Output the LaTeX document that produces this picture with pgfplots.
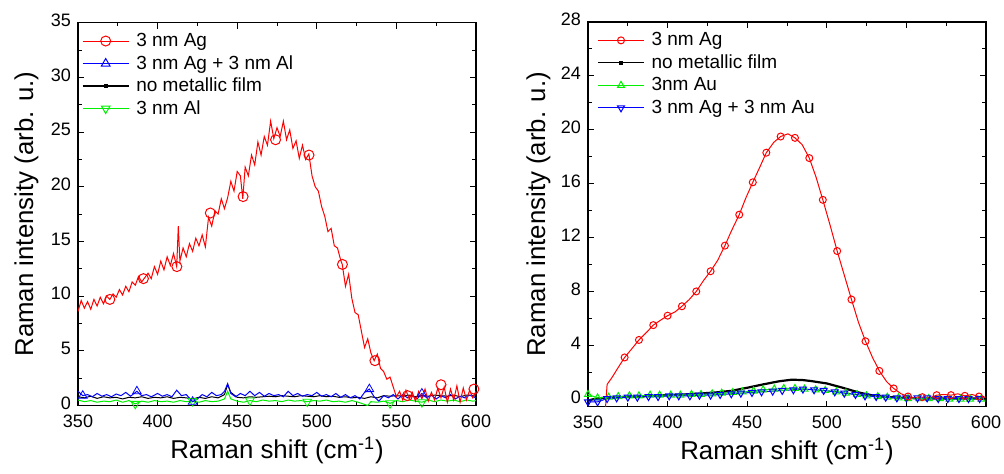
\documentclass[border=0pt]{standalone}
\usepackage{fontspec}
\setmainfont{Liberation Sans}
\usepackage{pgfplots}
\pgfplotsset{compat=1.18}
\definecolor{myred}{RGB}{255,0,0}
\definecolor{myblue}{RGB}{0,0,255}
\definecolor{mygreen}{RGB}{0,240,0}
\pgfplotsset{
  myaxis/.style={
    scale only axis,
    xmin=350, xmax=600,
    xtick={350,400,450,500,550,600},
    minor x tick num=1,
    tick align=inside,
    ticks=both,
    xtick pos=both, ytick pos=both,
    major tick length=3pt, minor tick length=1.8pt,
    axis line style={line width=0.6pt},
    every tick/.style={black, line width=0.5pt},
    /pgf/number format/assume math mode=true,
    ticklabel style={font=\fontsize{9}{10}\selectfont},
    xticklabel style={yshift=-1pt},
    yticklabel style={yshift=1.2pt},
    xlabel={Raman shift (cm\textsuperscript{-1})},
    ylabel={Raman intensity (arb. u.)},
    label style={font=\fontsize{12.9}{14}\selectfont},
    xlabel style={at={(axis description cs:0.5,0)}, anchor=base, yshift=-26.5pt},
    legend cell align=left,
    legend style={draw=none, fill=none, inner sep=0pt,
      font=\fontsize{9.5}{10}\selectfont,
      nodes={inner sep=0pt, text height=7.5pt, text depth=2pt},
      row sep=1.75pt, column sep=3.5pt},
    legend image code/.code={
      \draw[mark repeat=2,mark phase=2] plot coordinates {(0pt,0pt) (11.5pt,0pt) (23pt,0pt)};},
  },
}
\begin{document}
\begin{tikzpicture}
\path[use as bounding box] (0,0) rectangle (502pt,-236.5pt);
% ---------------- left panel ----------------
\begin{axis}[myaxis,
  at={(39pt,-11.35pt)}, anchor=north west,
  width=199pt, height=191.4pt,
  ymin=0, ymax=35, ytick={0,5,...,35}, minor y tick num=1,
  ylabel style={at={(axis description cs:-0.113,0.5)}, anchor=base},
  legend style={at={(axis description cs:0.0093,0.978)}, anchor=north west},
]
\addlegendimage{myred, line width=0.5pt, mark=o, mark size=2.5pt}
\addlegendentry{3 nm Ag}
\addlegendimage{myblue, line width=0.5pt, mark=triangle, mark size=2.5pt}
\addlegendentry{3 nm Ag + 3 nm Al}
\addlegendimage{black, line width=0.6pt, mark=square*, mark size=0.8pt}
\addlegendentry{no metallic film}
\addlegendimage{mygreen, line width=0.5pt, mark=triangle, mark options={rotate=180}, mark size=2.5pt}
\addlegendentry{3 nm Al}

% no metallic film
\addplot[black, line width=0.5pt, forget plot] coordinates {
(350,0.8)(354,0.7)(358,0.85)(362,0.65)(366,0.8)(370,0.7)(374,0.75)(378,0.6)(382,0.75)(386,0.7)(390,0.8)(394,0.65)(398,0.75)(402,0.7)(406,0.8)(410,0.65)(414,0.75)(418,0.7)(422,0.6)(426,0.75)(430,0.65)(434,0.8)(438,0.7)(442,1.0)(444,1.9)(446,1.2)(450,0.75)(454,0.7)(458,0.8)(462,0.75)(466,0.8)(470,0.85)(474,0.8)(478,0.9)(482,0.85)(486,0.8)(490,0.9)(494,0.85)(498,0.8)(502,0.9)(506,0.8)(510,0.85)(514,0.75)(518,0.8)(522,0.7)(526,0.75)(530,0.65)(534,0.8)(538,0.7)(542,0.9)(546,0.85)(550,0.9)(554,0.85)(558,0.95)(562,0.8)(566,0.9)(570,0.85)(574,0.95)(578,0.9)(582,0.85)(586,0.95)(590,0.8)(594,0.95)(598,0.9)(600,0.85)};
% 3 nm Al
\addplot[mygreen, line width=0.5pt, forget plot] coordinates {
(350,0.5)(354,0.35)(358,0.45)(362,0.3)(366,0.4)(370,0.35)(374,0.5)(378,0.3)(382,0.45)(386,0.15)(390,0.4)(394,0.3)(398,0.45)(402,0.35)(406,0.4)(410,0.3)(414,0.45)(418,0.35)(422,0.4)(426,0.3)(430,0.45)(434,0.35)(438,0.4)(442,0.6)(444,1.3)(446,0.6)(450,0.4)(454,0.3)(458,0.45)(462,0.35)(466,0.5)(470,0.4)(474,0.45)(478,0.35)(482,0.5)(486,0.4)(490,0.45)(494,0.35)(498,0.45)(502,0.4)(506,0.5)(510,0.35)(514,0.4)(518,0.3)(522,0.45)(526,0.3)(530,0.1)(532,0.0)(534,0.35)(538,0.3)(542,0.4)(546,0.2)(550,0.45)(554,0.35)(558,0.5)(562,0.4)(566,0.3)(570,0.5)(574,0.35)(578,0.5)(582,0.4)(586,0.5)(590,0.35)(594,0.5)(598,0.4)(600,0.45)};
\addplot[mygreen, only marks, mark=triangle, mark options={rotate=180}, mark size=2.5pt, forget plot] coordinates {
(386,0.15)(422,0.4)(458,0.45)(494,0.35)(546,0.2)(566,0.3)};
% 3 nm Ag + 3 nm Al
\addplot[myblue, line width=0.5pt, forget plot] coordinates {
(350,1.3)(353,0.9)(356,1.0)(359,0.8)(362,1.1)(365,0.85)(368,1.0)(371,0.8)(374,1.05)(377,0.9)(380,1.2)(383,0.85)(387,1.3)(390,0.9)(393,1.0)(396,0.8)(400,1.1)(403,0.85)(406,1.0)(409,0.8)(412,1.4)(415,0.9)(418,1.0)(422,0.35)(425,0.6)(428,1.0)(431,0.8)(434,1.2)(437,0.9)(440,1.0)(442,1.3)(444,2.0)(446,1.1)(449,0.8)(452,1.1)(455,0.9)(458,1.3)(461,0.9)(464,1.2)(467,0.85)(470,1.1)(473,0.9)(476,1.0)(479,0.8)(482,1.3)(485,0.9)(488,1.1)(491,0.85)(494,1.0)(497,0.9)(500,1.2)(503,0.85)(506,1.0)(509,0.8)(512,1.1)(515,0.75)(518,1.0)(521,0.7)(524,0.9)(527,0.6)(530,1.2)(533,1.5)(536,0.8)(539,0.4)(542,0.9)(545,0.7)(548,1.0)(551,0.6)(554,1.0)(557,0.7)(560,0.9)(563,0.6)(566,1.1)(569,0.7)(572,0.95)(575,0.6)(578,0.9)(581,0.7)(584,1.0)(587,0.6)(590,0.85)(593,0.7)(596,0.95)(600,0.7)};
\addplot[myblue, only marks, mark=triangle, mark size=2.5pt, forget plot] coordinates {
(353,0.9)(387,1.3)(422,0.35)(533,1.5)(566,1.1)};
% 3 nm Ag
\addplot[myred, line width=0.5pt, forget plot] coordinates {
(350,8.6)(352,9.6)(354,8.9)(356,9.5)(358,8.8)(360,9.7)(362,9.1)(364,9.9)(366,9.3)(368,10.0)(370,9.7)(372,10.2)(374,9.9)(376,10.6)(378,10.1)(380,10.9)(382,10.4)(384,11.3)(386,11.0)(388,11.8)(390,11.3)(392,11.7)(394,12.1)(396,11.6)(398,12.7)(400,12.0)(402,13.2)(404,12.4)(406,13.6)(408,12.8)(410,13.9)(412,12.7)(413,16.4)(414,13.2)(416,14.4)(418,13.6)(420,14.8)(422,14.1)(424,15.3)(426,14.6)(428,15.6)(430,14.5)(432,17.2)(434,16.4)(436,17.8)(438,17.5)(440,18.9)(442,18.0)(444,19.0)(446,20.5)(448,19.6)(450,21.4)(452,21.0)(453.5,18.9)(455,21.8)(457,21.0)(459,22.9)(461,22.0)(463,24.1)(465,22.9)(467,24.6)(469,23.8)(471,26.0)(473,24.4)(475,25.4)(477,24.6)(479,26.0)(481,24.3)(483,25.2)(485,23.5)(487,24.2)(489,22.6)(491,23.8)(493,22.5)(495,23.0)(497,21.0)(499,20.0)(501,19.6)(503,18.2)(505,17.3)(507,15.9)(509,16.2)(511,14.6)(513,14.4)(515,13.3)(516,12.9)(518,10.9)(520,12.0)(522,9.8)(524,8.5)(526,8.3)(528,6.8)(530,5.3)(532,6.1)(534,4.8)(536,4.1)(538,4.7)(540,3.4)(542,3.1)(544,2.4)(546,2.6)(548,1.7)(550,0.8)(552,1.3)(554,0.5)(556,1.4)(558,0.6)(560,1.2)(562,0.4)(564,1.3)(566,0.6)(568,1.5)(570,0.4)(572,1.2)(574,0.5)(576,1.6)(578,0.7)(580,1.7)(582,0.3)(584,1.5)(586,0.5)(588,1.8)(590,0.3)(592,1.6)(594,0.5)(596,1.4)(598,0.7)(600,1.3)};
\addplot[myred, only marks, mark=o, mark size=2.5pt, line width=0.5pt, forget plot] coordinates {
(370,9.7)(391.1,11.6)(412.1,12.7)(433.1,17.6)(453.7,19.1)(474.1,24.3)(495.1,22.9)(516.1,12.9)(536.5,4.1)(557,0.9)(578,1.9)(598.7,1.5)};
\end{axis}
% ---------------- right panel ----------------
\begin{axis}[myaxis,
  at={(294pt,-11pt)}, anchor=north west,
  width=199pt, height=192.3pt,
  ymin=-0.55, ymax=28, ytick={0,4,...,28}, minor y tick num=1,
  ylabel style={at={(axis description cs:-0.108,0.5)}, anchor=base},
  legend style={at={(axis description cs:0.0226,0.978)}, anchor=north west},
]
\addlegendimage{myred, line width=0.5pt, mark=o, mark size=1.75pt}
\addlegendentry{3 nm Ag}
\addlegendimage{black, line width=0.6pt, mark=square*, mark size=0.8pt}
\addlegendentry{no metallic film}
\addlegendimage{mygreen, line width=0.5pt, mark=triangle, mark size=2pt}
\addlegendentry{3nm Au}
\addlegendimage{myblue, line width=0.5pt, mark=triangle, mark options={rotate=180}, mark size=2pt}
\addlegendentry{3 nm Ag + 3 nm Au}

% no metallic film
\addplot[black, line width=1.1pt, forget plot] coordinates {
(350,-0.1)(355,0.05)(360,0.1)(370,0.15)(380,0.2)(390,0.25)(400,0.3)(410,0.35)(420,0.42)(430,0.5)(440,0.62)(450,0.85)(460,1.1)(470,1.33)(478,1.45)(485,1.42)(490,1.35)(500,1.17)(510,0.85)(520,0.5)(530,0.25)(540,0.15)(550,0.1)(560,0.05)(570,0.05)(580,0.05)(590,0.05)(600,0.05)};
% 3nm Au
\addplot[mygreen, line width=0.5pt, mark=triangle, mark size=2pt, forget plot] coordinates {
(350,0.35)(356,0.1)(363,0.15)(369,0.2)(376,0.25)(382,0.25)(389,0.3)(395,0.3)(402,0.3)(408,0.3)(415,0.35)(421,0.35)(428,0.4)(434,0.45)(441,0.5)(447,0.55)(454,0.6)(460,0.7)(467,0.75)(473,0.8)(480,0.8)(486,0.75)(493,0.7)(499,0.65)(506,0.55)(512,0.45)(519,0.35)(525,0.25)(532,0.2)(538,0.15)(545,0.1)(551,0.05)(558,0.05)(564,0.05)(571,0.05)(577,0.0)(584,0.0)(590,0.0)(597,0.0)};
% 3 nm Ag + 3 nm Au
\addplot[myblue, line width=0.5pt, mark=triangle, mark options={rotate=180, fill=myblue!25}, mark size=2pt, forget plot] coordinates {
(350,-0.2)(356,-0.2)(362,0.05)(368,0.1)(375,0.15)(381,0.15)(388,0.2)(394,0.2)(401,0.25)(407,0.25)(414,0.25)(420,0.3)(427,0.3)(433,0.35)(440,0.4)(446,0.45)(453,0.5)(459,0.55)(466,0.6)(472,0.65)(479,0.7)(485,0.75)(492,0.7)(498,0.65)(505,0.55)(511,0.45)(518,0.35)(524,0.25)(531,0.2)(537,0.15)(544,0.1)(550,0.1)(557,0.1)(563,0.1)(570,0.05)(576,0.05)(583,0.05)(589,0.05)(596,0.05)};
% 3 nm Ag
\addplot[myred, line width=0.5pt, mark=o, mark size=1.75pt, mark repeat=2, mark phase=4, forget plot] coordinates {
(361,-0.6)(362,1.1)(365,1.6)(369,2.36)(373,3.1)(377.9,3.8)(382,4.4)(387.1,5.0)(391,5.5)(396,5.9)(400,6.2)(404.9,6.5)(409,6.9)(413.6,7.4)(418,8.0)(422.5,8.8)(427,9.5)(431.4,10.3)(436,11.4)(440.1,12.5)(445,13.7)(449,14.9)(453.5,16.1)(458,17.25)(462,18.3)(466.7,19.07)(471,19.5)(475.6,19.7)(480,19.4)(484.5,18.9)(489,17.9)(493.2,16.5)(497.5,14.8)(502.1,12.9)(506.5,11.0)(511,9.2)(515.5,7.4)(519.9,5.7)(524.3,4.3)(528.7,3.1)(533,2.1)(537.6,1.3)(542,0.8)(546.7,0.4)(551,0.2)(555.6,0.1)(560,0.15)(564.5,0.1)(569,0.3)(573.4,0.35)(578,0.3)(582.3,0.4)(586.7,0.25)(591.2,0.35)(595.6,0.2)(600,0.15)};
\end{axis}
\end{tikzpicture}
\end{document}
